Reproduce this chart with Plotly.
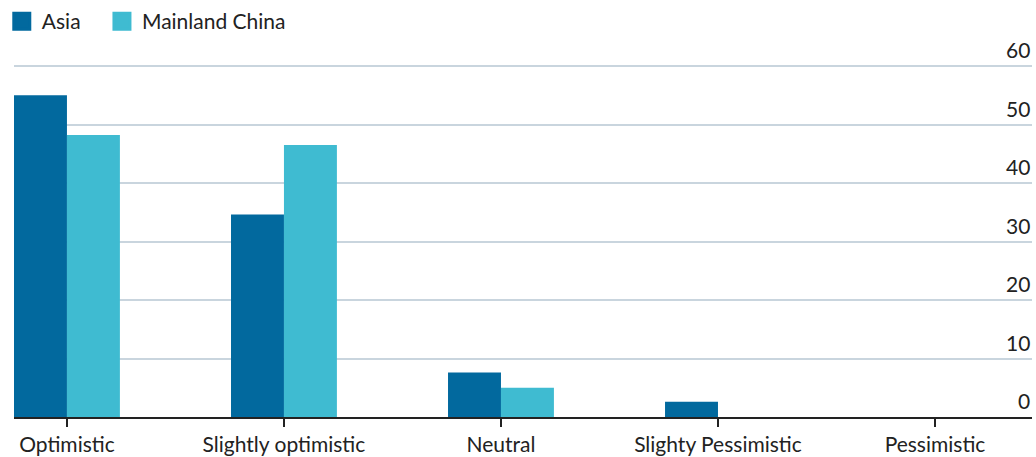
import plotly.graph_objects as go

categories = ["Optimistic", "Slightly optimistic", "Neutral", "Slighty Pessimistic", "Pessimistic"]
asia = [55.0, 34.6, 7.6, 2.6, 0]
mainland = [48.2, 46.5, 5.0, 0, 0]
y_ticks = [0, 10, 20, 30, 40, 50, 60]
series_names = ["Asia", "Mainland China"]

ASIA_C = "#02699E"
CHINA_C = "#3FBBD1"
FONT = "Lato, sans-serif"

fig = go.Figure()
for name, vals, col in [(series_names[0], asia, ASIA_C), (series_names[1], mainland, CHINA_C)]:
    fig.add_trace(go.Bar(name=name, x=categories, y=vals, showlegend=False,
                         marker=dict(color=col, line=dict(width=0))))
for name, col, lg in [(series_names[0], ASIA_C, "legend"), (series_names[1], CHINA_C, "legend2")]:
    fig.add_trace(go.Scatter(name=name, x=[None], y=[None], mode="markers", legend=lg,
                             marker=dict(symbol="square", size=19, color=col,
                                         line=dict(width=3, color=col))))

leg_common = dict(orientation="h", y=1.12, xanchor="left", yanchor="middle",
                  font=dict(size=21), itemwidth=30, bgcolor="rgba(0,0,0,0)")
fig.update_layout(
    width=1036, height=457,
    margin=dict(l=14, r=4, t=64, b=40, autoexpand=False),
    paper_bgcolor="white", plot_bgcolor="white",
    barmode="group", bargap=0.512, bargroupgap=0,
    font=dict(family=FONT, size=21, color="#222222"),
    legend=dict(x=-0.012, **leg_common),
    legend2=dict(x=0.0864, **leg_common),
    showlegend=True,
)
fig.update_xaxes(
    range=[-0.244, 4.447], automargin=False,
    showgrid=False, showline=True, linecolor="#222222", linewidth=1.5,
    ticks="outside", ticklen=8, tickwidth=1.5, tickcolor="#222222",
    tickfont=dict(size=21), fixedrange=True,
)
fig.update_yaxes(
    range=[0, 60.35], automargin=False, tickvals=y_ticks, showticklabels=False,
    showgrid=True, gridcolor="#C9D5DE", gridwidth=2, zeroline=False,
    ticks="", showline=False, fixedrange=True,
)
for v in y_ticks:
    fig.add_annotation(x=1, xref="paper", y=v, yref="y", text=str(v),
                       showarrow=False, xanchor="right", yanchor="bottom",
                       yshift=2, font=dict(size=21, family=FONT, color="#222222"))

fig.write_html("out.html", config={"displayModeBar": False},
               post_script="document.body.style.margin='0';document.body.style.padding='0';")
